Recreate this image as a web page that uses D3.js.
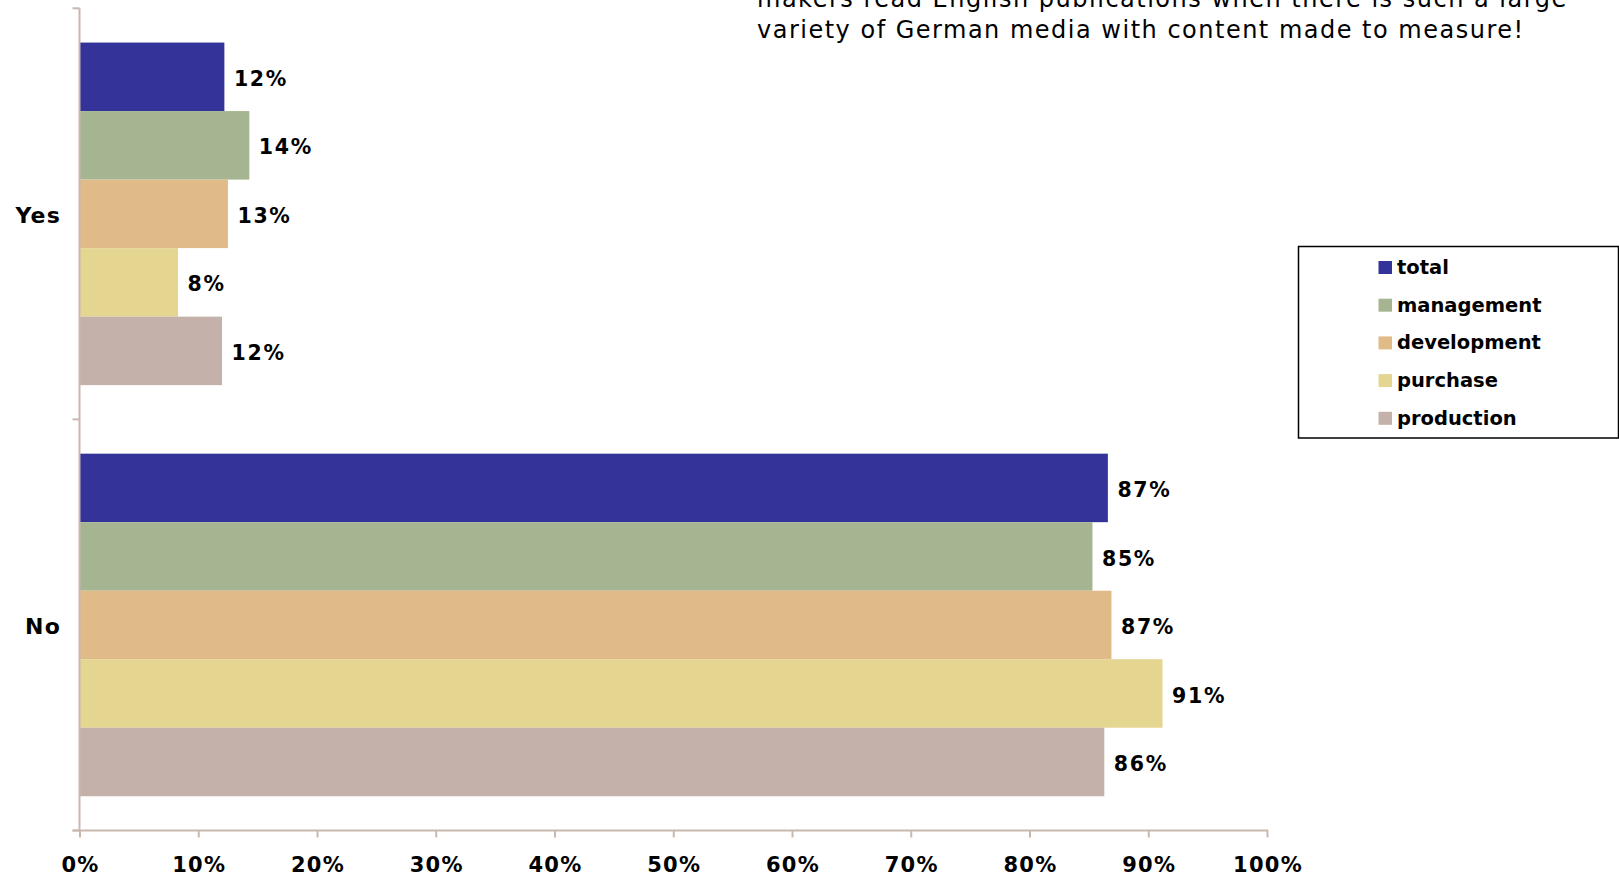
<!DOCTYPE html>
<html>
<head>
<meta charset="utf-8">
<script src="https://cdn.jsdelivr.net/npm/d3@7"></script>
<style>
  html, body { margin: 0; padding: 0; background: #ffffff; overflow: hidden; }
  svg { display: block; }
</style>
</head>
<body>
<svg id="chart" width="1619" height="881"></svg>
<script>
// Answers per group, share of respondents (%)
const categories = ["Yes", "No"];
const seriesNames = ["total", "management", "development", "purchase", "production"];
const seriesColors = ["#333399", "#a5b592", "#e0bb87", "#e4d591", "#c4b1aa"];
const yesValues = [12.2, 14.3, 12.5, 8.3, 12.0];
const noValues = [86.6, 85.3, 86.9, 91.2, 86.3];
const xTicks = [0, 10, 20, 30, 40, 50, 60, 70, 80, 90, 100];
const noteLines = [
  "makers read English publications when there is such a large",
  "variety of German media with content made to measure!"
];

const rows = categories.map((c, i) => ({
  category: c,
  values: seriesNames.map((s, j) => ({ series: s, value: (i === 0 ? yesValues : noValues)[j] }))
}));

const svg = d3.select("#chart");
const axisColor = "#c9b8b0";
const labelFont = "'DejaVu Sans', Verdana, sans-serif";

const plot = { left: 79.5, right: 1267, top: 8.3, bottom: 830.5 };

const x = d3.scaleLinear().domain([0, 100]).range([plot.left, plot.right]);
const y = d3.scaleBand().domain(categories).range([plot.top, plot.bottom])
  .paddingInner(1 / 6).paddingOuter(1 / 12);
const yInner = d3.scaleBand().domain(seriesNames).range([0, y.bandwidth()]);
const color = d3.scaleOrdinal().domain(seriesNames).range(seriesColors);
const pct = d3.format(".0f");

// bars
const groups = svg.append("g").selectAll("g").data(rows).join("g")
  .attr("transform", d => `translate(0,${y(d.category)})`);

groups.selectAll("rect").data(d => d.values).join("rect")
  .attr("x", x(0))
  .attr("y", d => yInner(d.series))
  .attr("width", d => x(d.value) - x(0))
  .attr("height", yInner.bandwidth())
  .attr("fill", d => color(d.series));

// value labels
groups.selectAll("text").data(d => d.values).join("text")
  .attr("x", d => x(d.value) + 9.5)
  .attr("y", d => yInner(d.series) + yInner.bandwidth() / 2 + 1.5)
  .attr("dy", "0.37em")
  .attr("font-family", labelFont)
  .attr("font-weight", "bold")
  .attr("font-size", "20.5px")
  .attr("letter-spacing", "1.7px")
  .attr("fill", "#000")
  .text(d => pct(d.value) + "%");

// x axis
const xAxis = svg.append("g")
  .attr("transform", `translate(0,${plot.bottom})`)
  .call(d3.axisBottom(x).tickValues(xTicks).tickSize(7).tickSizeOuter(0)
    .tickFormat(d => d + "%"));
xAxis.select(".domain").remove();
xAxis.selectAll(".tick line").attr("stroke", axisColor).attr("stroke-width", 2);
xAxis.selectAll(".tick text")
  .attr("y", 41.5)
  .attr("dy", 0)
  .attr("dx", "0.5px")
  .attr("fill", "#000")
  .attr("font-family", labelFont)
  .attr("font-weight", "bold")
  .attr("font-size", "21px")
  .attr("letter-spacing", "1.3px");

// axis lines
svg.append("line")
  .attr("x1", plot.left - 7).attr("x2", plot.right + 1)
  .attr("y1", plot.bottom).attr("y2", plot.bottom)
  .attr("stroke", axisColor).attr("stroke-width", 2);
svg.append("line")
  .attr("x1", plot.left).attr("x2", plot.left)
  .attr("y1", plot.top).attr("y2", plot.bottom)
  .attr("stroke", axisColor).attr("stroke-width", 2);

// y ticks sit on the category boundaries
const boundaries = [plot.top, (y("Yes") + y.bandwidth() + y("No")) / 2, plot.bottom];
svg.append("g").selectAll("line").data(boundaries).join("line")
  .attr("x1", plot.left - 7).attr("x2", plot.left)
  .attr("y1", d => d).attr("y2", d => d)
  .attr("stroke", axisColor).attr("stroke-width", 2);

// category labels
svg.append("g").selectAll("text").data(categories).join("text")
  .attr("x", 61)
  .attr("y", d => y(d) + y.bandwidth() / 2 + 1)
  .attr("dy", "0.37em")
  .attr("text-anchor", "end")
  .attr("font-family", labelFont)
  .attr("font-weight", "bold")
  .attr("font-size", "22px")
  .attr("letter-spacing", "1.2px")
  .attr("fill", "#000")
  .text(d => d);

// legend
const legend = svg.append("g").attr("transform", "translate(1298.5,246.5)");
legend.append("rect")
  .attr("width", 320).attr("height", 191.5)
  .attr("fill", "#fff").attr("stroke", "#000").attr("stroke-width", 1.5);
const items = legend.selectAll("g.item").data(seriesNames).join("g")
  .attr("class", "item")
  .attr("transform", (d, i) => `translate(80,${14.5 + i * 37.7})`);
items.append("rect")
  .attr("width", 13.5).attr("height", 13)
  .attr("fill", d => color(d));
items.append("text")
  .attr("x", 18.5).attr("y", 13)
  .attr("font-family", labelFont)
  .attr("font-weight", "bold")
  .attr("font-size", "19.5px")
  .attr("fill", "#000")
  .text(d => d);

// note text (its first line runs past the top edge)
svg.append("g").selectAll("text").data(noteLines).join("text")
  .attr("x", 757)
  .attr("y", (d, i) => 7 + i * 30.5)
  .attr("font-family", labelFont)
  .attr("font-size", "24px")
  .attr("letter-spacing", "1.5px")
  .attr("fill", "#000")
  .text(d => d);
</script>
</body>
</html>
